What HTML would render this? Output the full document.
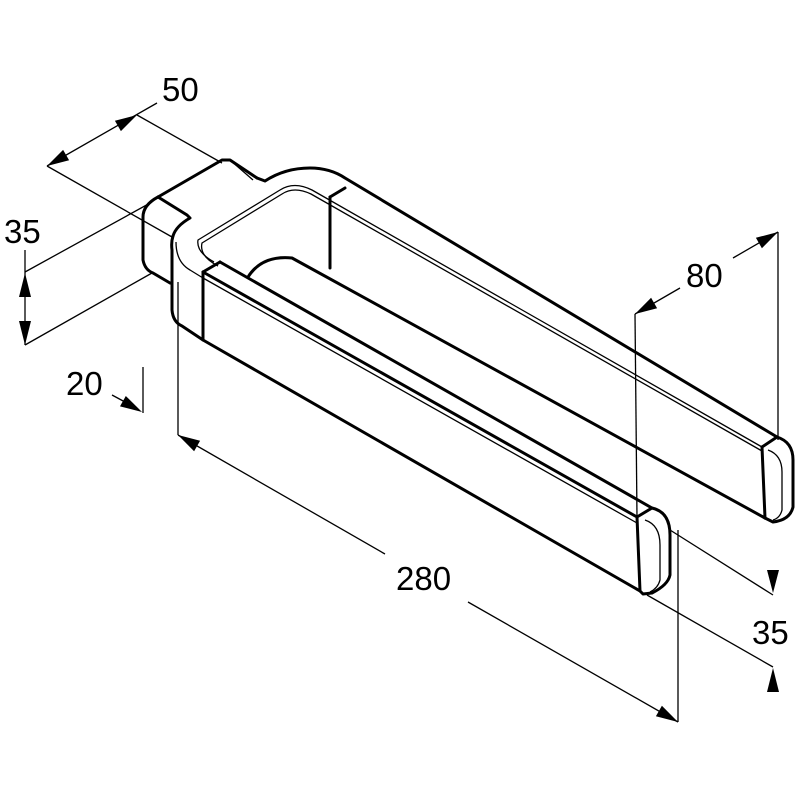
<!DOCTYPE html>
<html><head><meta charset="utf-8"><style>
html,body{margin:0;padding:0;background:#fff;}
svg{display:block;}
text{font-family:"Liberation Sans",sans-serif;font-size:33px;fill:#000;}
</style></head><body>
<svg width="800" height="800" viewBox="0 0 800 800" xmlns="http://www.w3.org/2000/svg">
<rect width="800" height="800" fill="#fff"/>
<g fill="none" stroke="#000" stroke-width="1.3">
<!-- 50 -->
<line x1="47" y1="166" x2="157" y2="103"/>
<line x1="137" y1="115" x2="222" y2="163"/>
<line x1="47" y1="166" x2="172" y2="237"/>
<!-- 35 left -->
<line x1="25" y1="250" x2="25" y2="345"/>
<line x1="25" y1="272" x2="152" y2="202"/>
<line x1="25" y1="345" x2="152" y2="273"/>
<!-- 20 -->
<line x1="143" y1="367" x2="143" y2="413"/>
<line x1="112" y1="395" x2="125" y2="402"/>
<!-- 280 -->
<line x1="178" y1="282" x2="178" y2="435"/>
<line x1="678" y1="530" x2="678" y2="722"/>
<line x1="178" y1="435" x2="385" y2="554"/>
<line x1="468" y1="602" x2="678" y2="722"/>
<!-- 80 -->
<line x1="635" y1="314" x2="680" y2="288"/>
<line x1="733" y1="258" x2="778" y2="232"/>
<line x1="778" y1="232" x2="778" y2="440"/>
<line x1="635" y1="314" x2="637" y2="518"/>
<!-- 35 right -->
<line x1="670" y1="530" x2="773" y2="595"/>
<line x1="647" y1="595" x2="773" y2="667"/>
</g>
<g fill="#000">
<polygon points="47,166 69.1,160.3 63.1,149.9"/>
<polygon points="137,115 120.9,131.1 114.9,120.7"/>
<polygon points="25,273 19,297 31,297"/>
<polygon points="25,345 19,321 31,321"/>
<polygon points="142,412 120,406.4 125.8,396"/>
<polygon points="635,314 657.1,308.2 651.1,297.8"/>
<polygon points="778,232 761.9,248.2 755.9,237.8"/>
<polygon points="178,435 194.1,451.2 200.1,440.8"/>
<polygon points="678,722 655.9,716.2 661.9,705.8"/>
<polygon points="773,593 767,570 779,570"/>
<polygon points="773,668 767,692 779,692"/>
</g>
<text x="162" y="101">50</text>
<text x="4" y="243">35</text>
<text x="66" y="395">20</text>
<text x="396" y="590">280</text>
<text x="686" y="287">80</text>
<text x="752" y="644">35</text>

<g fill="none" stroke="#000" stroke-width="3" stroke-linejoin="round" stroke-linecap="round">
<!-- mount -->
<path d="M158,197 L222,160 L230,160 L257,178"/>
<path d="M158,197 Q143,205 143,217 L143,260 Q145,270 153,273 L170,283"/>
<path d="M158,197 L187,215 L190,218 Q176,226 173,236"/>
<!-- U outer -->
<path d="M173,236 Q171,242 172,250 L172,310 Q173,322 182,326 L203,340 L640,591"/>
<path d="M257,178 L265,181 Q285,168 310,168 Q330,168 345,178 L777,437 Q793,442 793,460 L793,507 Q790,520 773,522 L765,518"/>
<!-- seams -->
<line x1="203" y1="272" x2="203" y2="340"/>
<line x1="203" y1="272" x2="220" y2="262"/>
<line x1="330" y1="197" x2="330" y2="268"/>
<line x1="330" y1="197" x2="345" y2="188"/>
<!-- front arm top front edge -->
<path d="M203,272 L637,517 L652,508 Q670,512 670,535 L670,575 Q668,585 652,593 L643,594 L640,591 L637,517"/>
<!-- front arm top back edge -->
<line x1="220" y1="262" x2="652" y2="508"/>
<!-- back arm inner face bottom -->
<path d="M248,277 Q262,255 292,258 L765,518"/>
<!-- back arm front top edge -->
<path d="M762,447 L777,437"/>
<line x1="762" y1="447" x2="765" y2="518"/>
</g>
<g fill="none" stroke="#000" stroke-width="1.3" stroke-linejoin="round">
<!-- inner rim double line -->
<path d="M214,262 Q196,252 198,240 L280,190 Q294,181 312,190 L762,447"/>
<path d="M218,266 Q199,256 202,243 L282,194 Q294,186 311,194 L762,451"/>
<!-- chamfer lines -->
<path d="M176,242 Q176,262 190,270 L203,278 L637,523"/>
<path d="M645,520 Q660,525 660,545 L660,580 Q658,588 650,592"/>
<path d="M768,450 Q782,455 782,472 L782,510 Q780,518 773,520"/>
<line x1="230" y1="160" x2="253" y2="180"/>
</g>
</svg>
</body></html>
